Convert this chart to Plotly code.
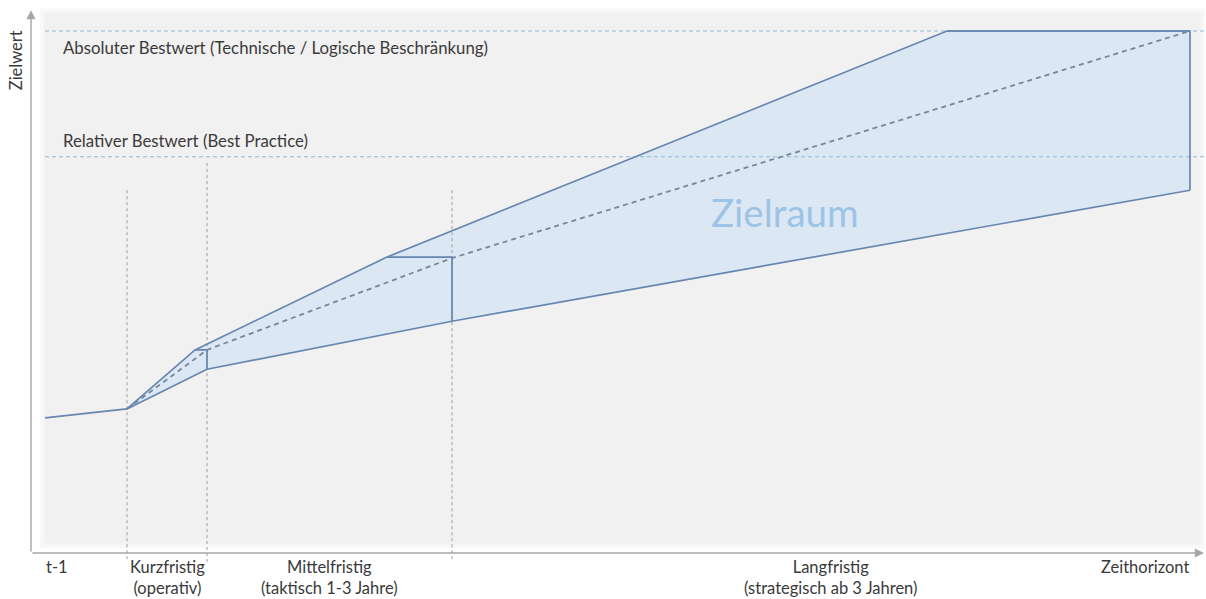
import plotly.graph_objects as go

# ---- Data (x: time position, y: Zielwert in % of the absolute best value) ----
baseline_x = [45, 127]
baseline_y = [25.9, 27.6]

upper_x = [127, 195, 387, 947, 1190]
upper_y = [27.6, 38.9, 56.7, 100.0, 100.0]

lower_x = [127, 207, 452, 1190]
lower_y = [27.6, 35.2, 44.4, 69.5]

# stepwise horizon ends (short / medium / long term)
step_x = [207, 452, 1190]
step_top = [38.9, 56.7, 100.0]
step_bottom = [35.2, 44.4, 69.5]
step_from_x = [195, 387, 947]

center_x = [127, 207, 452, 1190]
center_y = [27.6, 38.9, 56.5, 100.0]

absolute_best = 100.0
relative_best = 75.9

phase_x = [127, 207, 452]
phase_top = [69.5, 74.7, 69.5]

axis_labels = ["t-1", "Kurzfristig<br>(operativ)", "Mittelfristig<br>(taktisch 1-3 Jahre)",
               "Langfristig<br>(strategisch ab 3 Jahren)", "Zeithorizont"]
axis_label_x = [57, 167, 329, 830, 1145]

LINE = "#6686b0"
FONT = "Lato"
TXT = "#3a3a3a"

X_RANGE = [0, 1206]
Y_RANGE = [-8.81, 105.94]

fig = go.Figure()

# grey panel with soft edge
for pad, col in [(5, "#f8f8f8"), (2, "#f4f4f4"), (0, "#f1f1f1")]:
    fig.add_shape(type="rect", x0=45 - pad, x1=1200 + pad, y0=1.9 - pad / 5.22, y1=103.4 + pad / 5.22,
                  fillcolor=col, line_width=0, layer="below")

# target corridor fill
poly_x = upper_x + lower_x[::-1]
poly_y = upper_y + lower_y[::-1]
fig.add_trace(go.Scatter(x=poly_x, y=poly_y, fill="toself", fillcolor="rgba(200,224,246,0.55)",
                         mode="none", hoverinfo="skip"))

# phase guides
for px, top in zip(phase_x, phase_top):
    fig.add_trace(go.Scatter(x=[px, px], y=[top, -1.7], mode="lines",
                             line=dict(color="#9a9a9a", width=1, dash="3px,3px"), hoverinfo="skip"))

# best value references
for val in (absolute_best, relative_best):
    fig.add_trace(go.Scatter(x=[45, 1206], y=[val, val], mode="lines",
                             line=dict(color="#8fb7dc", width=1.1, dash="4px,3px"), hoverinfo="skip"))

# centre path
fig.add_trace(go.Scatter(x=center_x, y=center_y, mode="lines",
                         line=dict(color="#77859a", width=1.8, dash="5px,4px"), hoverinfo="skip"))

# corridor borders
fig.add_trace(go.Scatter(x=baseline_x, y=baseline_y, mode="lines", line=dict(color=LINE, width=1.7)))
fig.add_trace(go.Scatter(x=upper_x, y=upper_y, mode="lines", line=dict(color=LINE, width=1.7)))
fig.add_trace(go.Scatter(x=lower_x, y=lower_y, mode="lines", line=dict(color=LINE, width=1.7)))
for sx, fx, t, b in zip(step_x, step_from_x, step_top, step_bottom):
    fig.add_trace(go.Scatter(x=[fx, sx, sx], y=[t, t, b], mode="lines", line=dict(color=LINE, width=1.7)))

# axes with arrows
fig.add_annotation(x=31, y=104.0, ax=31, ay=0, xref="x", yref="y", axref="x", ayref="y",
                   showarrow=True, arrowhead=2, arrowsize=1.3, arrowwidth=1.4, arrowcolor="#a6a6a6", text="")
fig.add_annotation(x=1204, y=0, ax=31, ay=0, xref="x", yref="y", axref="x", ayref="y",
                   showarrow=True, arrowhead=2, arrowsize=1.3, arrowwidth=1.4, arrowcolor="#a6a6a6", text="")

# texts
fig.add_annotation(x=61, y=96.9, xref="x", yref="y", text="Absoluter Bestwert (Technische / Logische Beschränkung)",
                   showarrow=False, xanchor="left", yanchor="middle", font=dict(family=FONT, size=16.8, color=TXT))
fig.add_annotation(x=61, y=79.1, xref="x", yref="y", text="Relativer Bestwert (Best Practice)",
                   showarrow=False, xanchor="left", yanchor="middle", font=dict(family=FONT, size=16.8, color=TXT))
fig.add_annotation(x=785, y=65.3, xref="x", yref="y", text="Zielraum", showarrow=False,
                   font=dict(family=FONT, size=38.5, color="#9dc3e6"))
fig.add_annotation(x=16, y=94.4, xref="x", yref="y", text="Zielwert", textangle=-90, showarrow=False,
                   font=dict(family=FONT, size=16.5, color=TXT))
for lx, lab in zip(axis_label_x, axis_labels):
    fig.add_annotation(x=lx, y=-0.4, xref="x", yref="y", text=lab, showarrow=False, yanchor="top",
                       align="center", font=dict(family=FONT, size=16.5, color=TXT))

fig.update_layout(
    width=1206, height=599, margin=dict(l=0, r=0, t=0, b=0),
    paper_bgcolor="white", plot_bgcolor="white", showlegend=False,
    xaxis=dict(range=X_RANGE, visible=False, fixedrange=True),
    yaxis=dict(range=Y_RANGE, visible=False, fixedrange=True),
)

fig.write_html("out.html")
